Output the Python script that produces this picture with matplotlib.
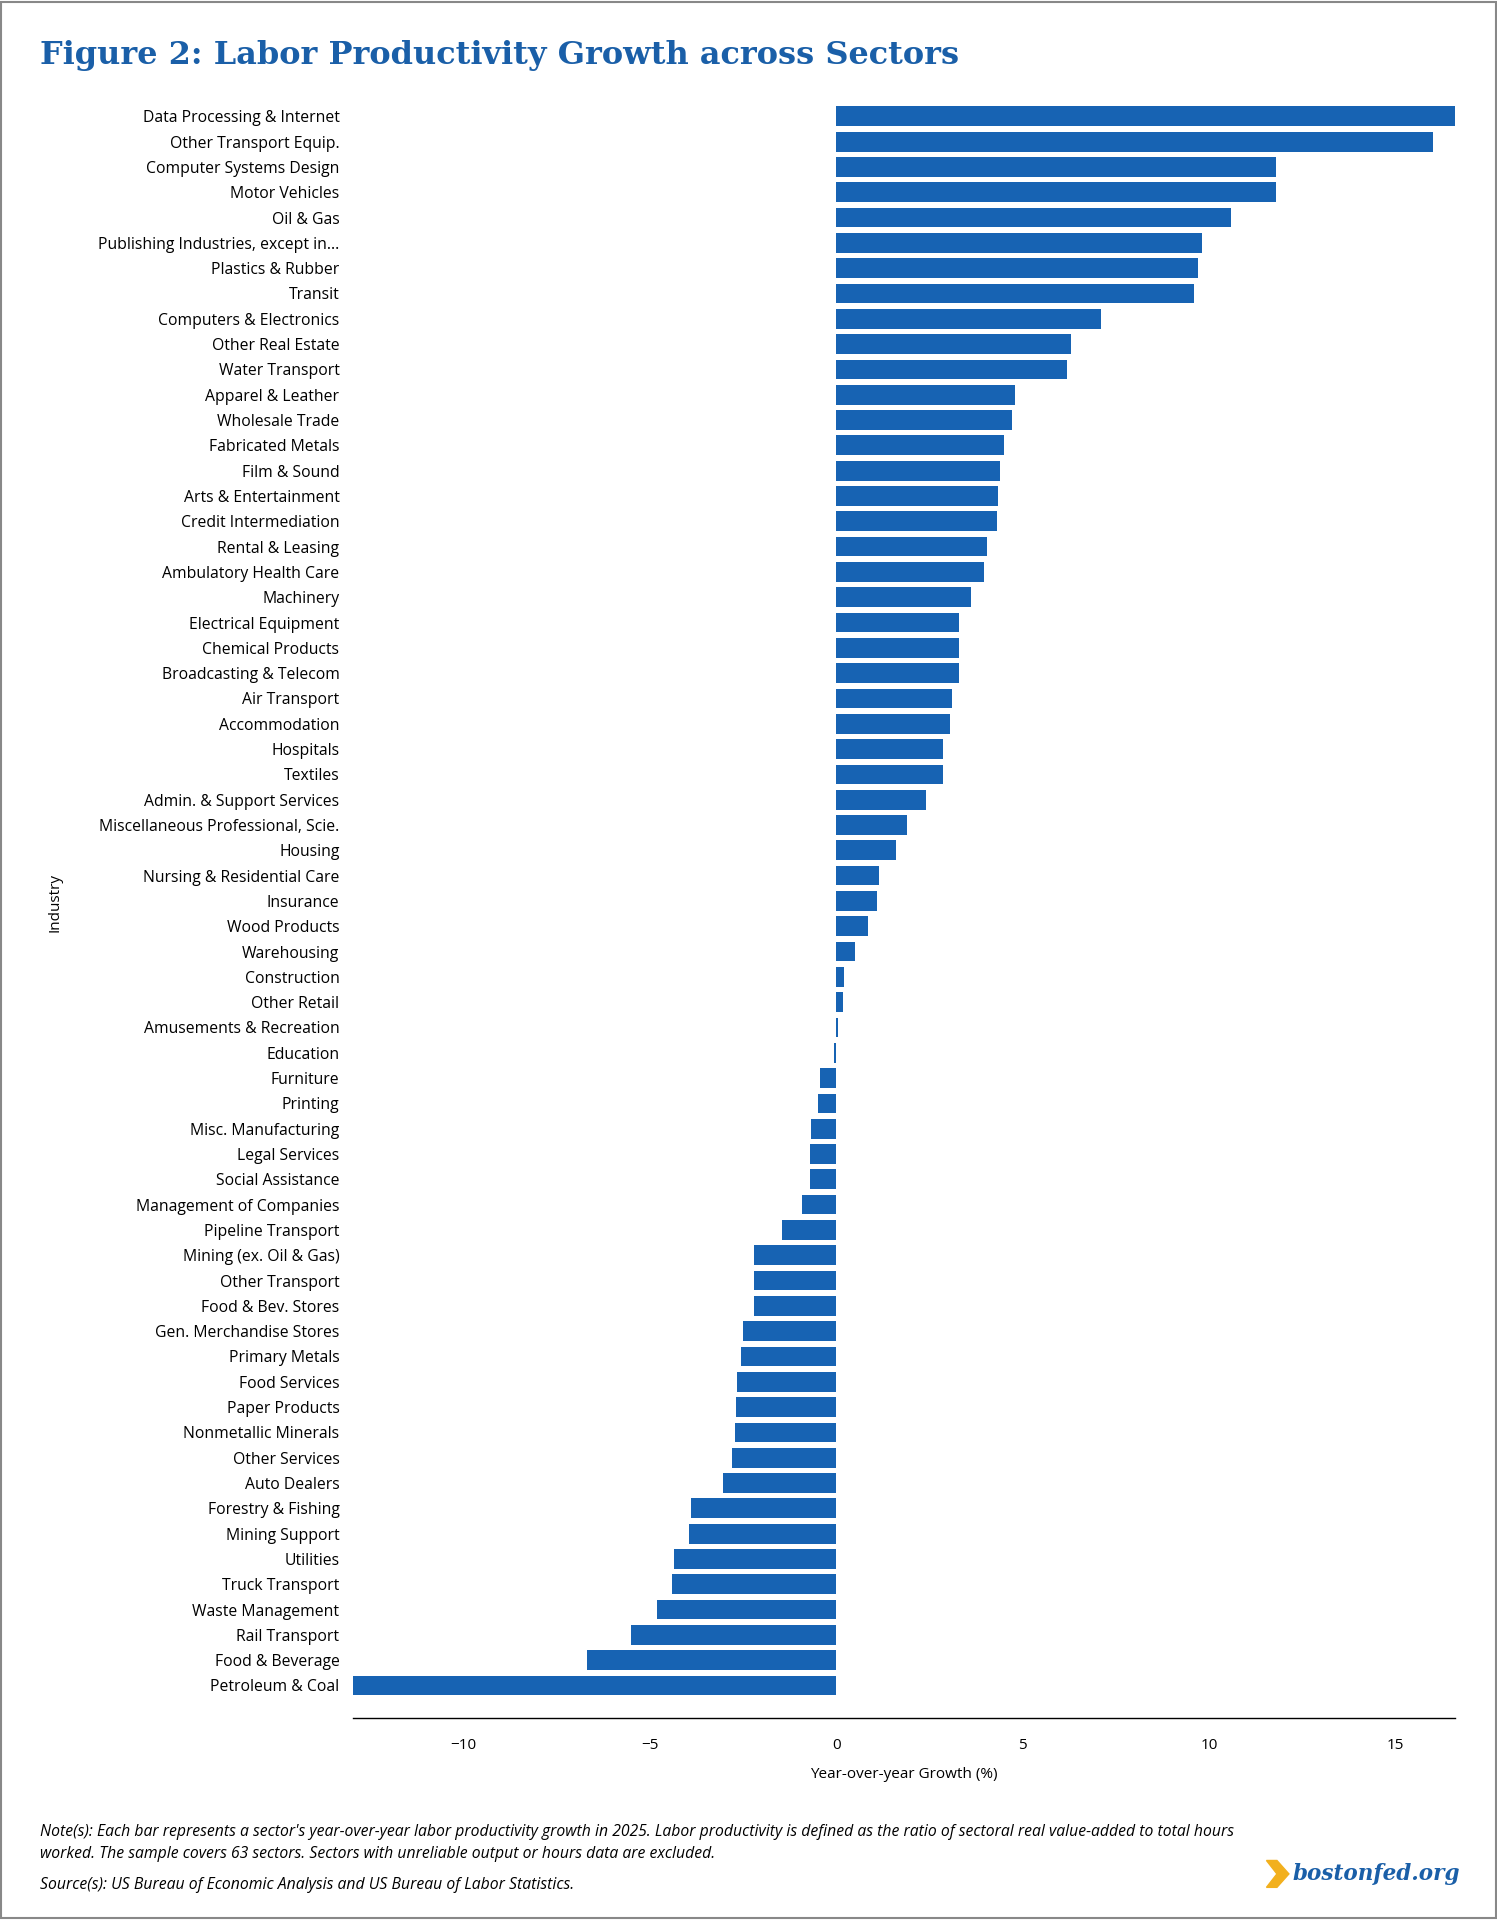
import matplotlib.pyplot as plt
import matplotlib.patches as mpatches

plt.rcParams['font.family'] = ['Open Sans', 'DejaVu Sans']

industries = [
    'Data Processing & Internet', 'Other Transport Equip.', 'Computer Systems Design',
    'Motor Vehicles', 'Oil & Gas', 'Publishing Industries, except in...', 'Plastics & Rubber',
    'Transit', 'Computers & Electronics', 'Other Real Estate', 'Water Transport',
    'Apparel & Leather', 'Wholesale Trade', 'Fabricated Metals', 'Film & Sound',
    'Arts & Entertainment', 'Credit Intermediation', 'Rental & Leasing',
    'Ambulatory Health Care', 'Machinery', 'Electrical Equipment', 'Chemical Products',
    'Broadcasting & Telecom', 'Air Transport', 'Accommodation', 'Hospitals', 'Textiles',
    'Admin. & Support Services', 'Miscellaneous Professional, Scie.', 'Housing',
    'Nursing & Residential Care', 'Insurance', 'Wood Products', 'Warehousing',
    'Construction', 'Other Retail', 'Amusements & Recreation', 'Education', 'Furniture',
    'Printing', 'Misc. Manufacturing', 'Legal Services', 'Social Assistance',
    'Management of Companies', 'Pipeline Transport', 'Mining (ex. Oil & Gas)',
    'Other Transport', 'Food & Bev. Stores', 'Gen. Merchandise Stores', 'Primary Metals',
    'Food Services', 'Paper Products', 'Nonmetallic Minerals', 'Other Services',
    'Auto Dealers', 'Forestry & Fishing', 'Mining Support', 'Utilities', 'Truck Transport',
    'Waste Management', 'Rail Transport', 'Food & Beverage', 'Petroleum & Coal',
]
growth = [
    16.6, 16.0, 11.8, 11.8, 10.6, 9.8, 9.7, 9.6, 7.1, 6.3, 6.2,
    4.8, 4.7, 4.5, 4.4, 4.35, 4.3, 4.05, 3.95, 3.6, 3.3, 3.3, 3.3, 3.1, 3.05,
    2.85, 2.85, 2.4, 1.9, 1.6, 1.15, 1.1, 0.85, 0.5, 0.2, 0.18, 0.05, -0.05,
    -0.45, -0.5, -0.67, -0.72, -0.72, -0.92, -1.45, -2.2, -2.2, -2.2, -2.5,
    -2.57, -2.67, -2.7, -2.73, -2.8, -3.05, -3.9, -3.95, -4.35, -4.4, -4.8,
    -5.5, -6.7, -12.96,
]

blue = '#1763b3'
fig = plt.figure(figsize=(14.97, 19.2), dpi=100)
ax = fig.add_axes([0.236, 0.105, 0.736, 0.841])
y = list(range(len(industries)))
ax.barh(y, growth, height=0.78, color=blue)
ax.set_yticks(y)
ax.set_yticklabels(industries, fontsize=11.3)
ax.set_ylim(len(industries) + 0.3, -0.5)
ax.set_xlim(-12.96, 16.6)
ax.set_xticks([-10, -5, 0, 5, 10, 15])
ax.tick_params(axis='x', labelsize=11, length=0, pad=14)
ax.tick_params(axis='y', length=0, pad=10)
for s in ['top', 'right', 'left']:
    ax.spines[s].set_visible(False)
ax.spines['bottom'].set_linewidth(1.0)
ax.set_xlabel('Year-over-year Growth (%)', fontsize=11, labelpad=10)
fig.text(0.032, 0.53, 'Industry', rotation=90, fontsize=11, va='center')

fig.text(0.027, 0.971, 'Figure 2: Labor Productivity Growth across Sectors',
         fontsize=23, fontweight='bold', color='#1a5fa8', family='DejaVu Serif', va='center')

fig.text(0.027, 0.040,
         "Note(s): Each bar represents a sector's year-over-year labor productivity growth in 2025. Labor productivity is defined as the ratio of sectoral real value-added to total hours\n"
         "worked. The sample covers 63 sectors. Sectors with unreliable output or hours data are excluded.",
         fontsize=11.3, style='italic', va='center', linespacing=1.5)
fig.text(0.027, 0.018, 'Source(s): US Bureau of Economic Analysis and US Bureau of Labor Statistics.',
         fontsize=11.3, style='italic', va='center')
fig.text(0.975, 0.024, 'bostonfed.org', fontsize=15.5, fontweight='bold', style='italic',
         color='#1a5fa8', family='DejaVu Serif', ha='right', va='center')
fig.patches.append(mpatches.Polygon([[0.846, 0.031], [0.853, 0.031], [0.861, 0.024],
                                     [0.853, 0.017], [0.846, 0.017], [0.853, 0.024]],
                                    closed=True, color='#f2b01e', transform=fig.transFigure))
fig.patches.append(mpatches.Rectangle((0.001, 0.001), 0.998, 0.998, fill=False,
                                      edgecolor='#888888', lw=1.5, transform=fig.transFigure))

fig.savefig('out.png', dpi=100)
